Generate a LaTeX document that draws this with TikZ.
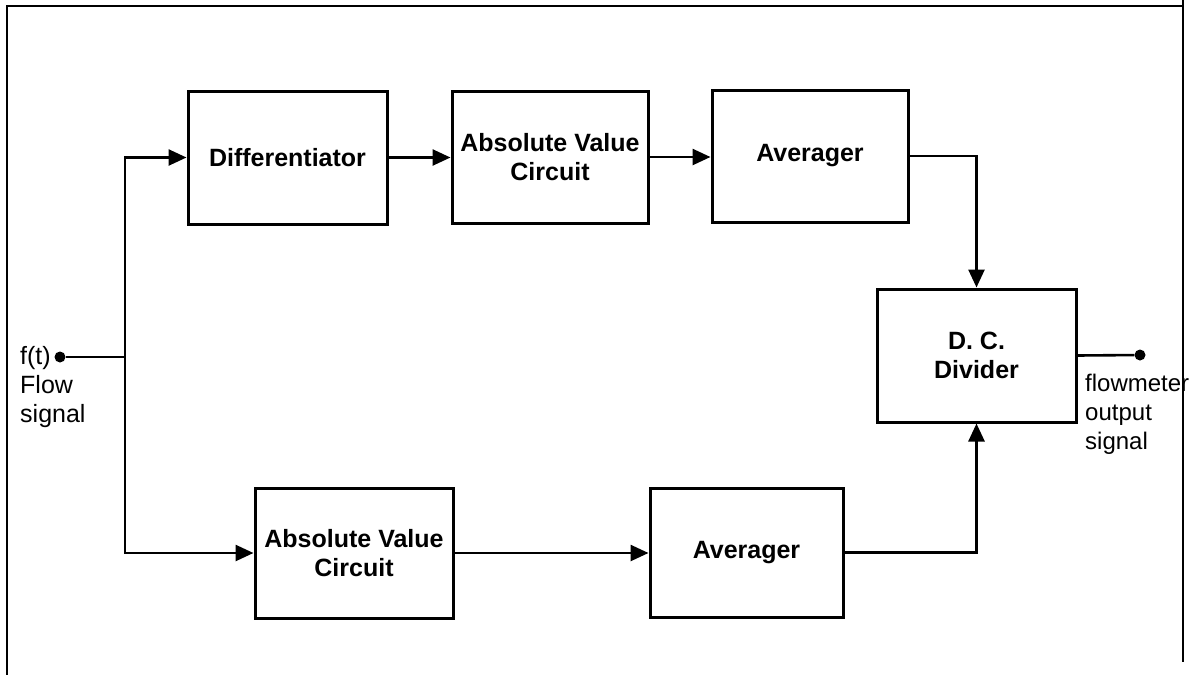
\documentclass[tikz,border=0pt]{standalone}
\usepackage{fontspec}
\setmainfont{Liberation Sans}
\usetikzlibrary{arrows.meta}
\begin{document}
\begin{tikzpicture}[x=1pt,y=-1pt,
 blk/.style={draw,line width=3pt,font=\fontsize{25}{29}\selectfont\bfseries,align=center,inner sep=0},
 conn/.style={line width=2.6pt},
 arr/.style={conn,-{Triangle[length=18pt,width=16pt]}},
 dotc/.style={circle,fill,inner sep=0,minimum size=11pt},
 lbl/.style={font=\fontsize{25}{29}\selectfont,align=left,inner sep=0,anchor=north west},
 frame/.style={line width=2.6pt}]
\useasboundingbox (0,0) rectangle (1192,675);
% blocks
\node[blk,minimum width=199pt,minimum height=133pt] (diff) at (287.5,157.5) {Differentiator};
\node[blk,minimum width=196pt,minimum height=132pt] (abs1) at (550,157) {Absolute Value\\Circuit};
\node[blk,minimum width=196pt,minimum height=132pt] (avg1) at (810,156) {Averager};
\node[blk,minimum width=199pt,minimum height=133pt] (dcd) at (976.5,355.5) {D. C.\\Divider};
\node[blk,minimum width=198pt,minimum height=130pt] (abs2) at (354,553) {Absolute Value\\Circuit};
\node[blk,minimum width=193pt,minimum height=129pt] (avg2) at (746.5,552.5) {Averager};
% terminals
\node[dotc] (in) at (60,357) {};
\coordinate (j) at (125,357);
\node[dotc] (out) at (1140,355) {};
% connectors
\draw[conn] (in) -- (j);
\draw[arr] (j) |- (diff.west);
\draw[arr] (j) |- (abs2.west);
\draw[arr] (diff.east) -- (diff.east -| abs1.west);
\draw[arr] (abs1.east) -- (abs1.east -| avg1.west);
\draw[arr] (avg1.east) -| (dcd.north);
\draw[arr] (abs2.east) -- (abs2.east -| avg2.west);
\draw[arr] (avg2.east) -| (dcd.south);
\draw[conn] (dcd.east) -- (out);
% labels
\node[lbl] (inl) at (20,346) {f(t)\\Flow\\signal};
\node[lbl,font=\fontsize{24}{29}\selectfont] (outl) at (1085,374) {flowmeter\\output\\signal};
% frame
\draw[frame] (7,675) -- (7,6) -- (1183,6);
\draw[frame] (1183,0) -- (1183,662);
\end{tikzpicture}
\end{document}
